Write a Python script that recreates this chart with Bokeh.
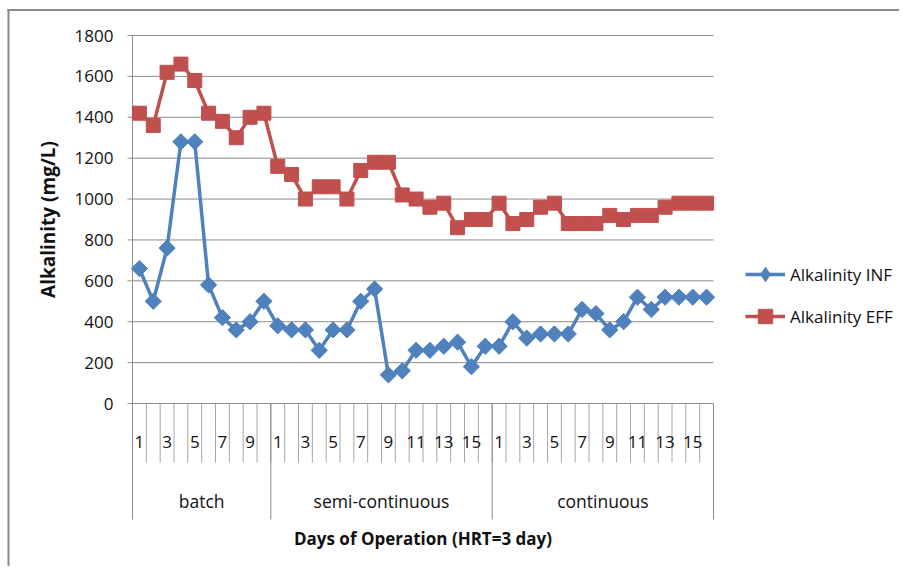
import numpy as np
from bokeh.plotting import figure
from bokeh.models import Range1d, Legend, LegendItem
from bokeh.core.properties import value
from bokeh.embed import file_html
from bokeh.resources import INLINE

# ---- data ----
phases = ["batch", "semi-continuous", "continuous"]
phase_days = [10, 16, 16]
inf_batch = [660, 500, 760, 1280, 1280, 580, 420, 360, 400, 500]
eff_batch = [1420, 1360, 1620, 1660, 1580, 1420, 1380, 1300, 1400, 1420]
inf_semi = [380, 360, 360, 260, 360, 360, 500, 560, 140, 160, 260, 260, 280, 300, 180, 280]
eff_semi = [1160, 1120, 1000, 1060, 1060, 1000, 1140, 1180, 1180, 1020, 1000, 960, 980, 860, 900, 900]
inf_cont = [280, 400, 320, 340, 340, 340, 460, 440, 360, 400, 520, 460, 520, 520, 520, 520]
eff_cont = [980, 880, 900, 960, 980, 880, 880, 880, 920, 900, 920, 920, 960, 980, 980, 980]
y_ticks = [0, 200, 400, 600, 800, 1000, 1200, 1400, 1600, 1800]

inf = inf_batch + inf_semi + inf_cont
eff = eff_batch + eff_semi + eff_cont
days = [d for n_ in phase_days for d in range(1, n_ + 1)]
n = len(days)
x = [i + 0.5 for i in range(n)]
group_bounds = [int(v) for v in np.cumsum([0] + phase_days)]
group_centers = [(group_bounds[k] + group_bounds[k + 1]) / 2 for k in range(len(phases))]
y_max = max(y_ticks)

# ---- layout (picture pixels -> data) ----
FONT = "Open Sans"
BLUE = "#4F81BD"
RED = "#C0504D"
GRID = "#8c8c8c"
SEP = "#a6a6a6"
TXT = "#111111"
W, H = 899, 566
PL, PR, PT, PB = 132, 713, 35, 403   # plot area in picture pixels
sx = (PR - PL) / n
sy = (PB - PT) / y_max


def X(px):
    return (px - PL) / sx


def Y(py):
    return (PB - py) / sy


p = figure(width=W, height=H, output_backend="svg", toolbar_location=None,
           x_range=Range1d(X(0), X(W)), y_range=Range1d(Y(H), Y(0)),
           min_border=0, min_border_left=0, min_border_right=0,
           min_border_top=0, min_border_bottom=0)
p.outline_line_color = None
p.xaxis.visible = False
p.yaxis.visible = False
p.grid.visible = False

# outer chart border (top & left)
p.segment(x0=[X(7)], y0=[Y(9.5)], x1=[X(W)], y1=[Y(9.5)], line_color="#8a8a8a", line_width=2)
p.segment(x0=[X(8)], y0=[Y(8.5)], x1=[X(8)], y1=[Y(H)], line_color="#8a8a8a", line_width=2)

# horizontal gridlines
p.segment(x0=[0] * len(y_ticks), y0=y_ticks, x1=[n] * len(y_ticks), y1=y_ticks,
          line_color=GRID, line_width=1)
# y axis line and ticks
p.segment(x0=[0], y0=[0], x1=[0], y1=[y_max], line_color=GRID, line_width=1)
p.segment(x0=[X(PL - 5)] * len(y_ticks), y0=y_ticks, x1=[0] * len(y_ticks), y1=y_ticks,
          line_color=GRID, line_width=1)
p.text(x=[X(113)] * len(y_ticks), y=y_ticks, text=[str(v) for v in y_ticks],
       text_align="right", text_baseline="middle", text_font=value(FONT),
       text_font_size="17px", text_color=TXT)

# category separators
bounds = list(range(n + 1))
p.segment(x0=bounds, y0=[0] * len(bounds), x1=bounds, y1=[Y(462)] * len(bounds),
          line_color=SEP, line_width=1)
p.segment(x0=group_bounds, y0=[0] * len(group_bounds), x1=group_bounds,
          y1=[Y(519)] * len(group_bounds), line_color=GRID, line_width=1)

# category labels (odd days) and group labels
lx = [x[i] for i in range(n) if days[i] % 2 == 1]
lt = [str(days[i]) for i in range(n) if days[i] % 2 == 1]
p.text(x=lx, y=[Y(441)] * len(lx), text=lt, text_align="center", text_baseline="middle",
       text_font=value(FONT), text_font_size="17px", text_color=TXT)
p.text(x=group_centers, y=[Y(500)] * len(group_centers), text=phases, text_align="center",
       text_baseline="middle", text_font=value(FONT), text_font_size="17.5px", text_color=TXT)

# axis titles
p.text(x=[X(47)], y=[y_max / 2], text=["Alkalinity (mg/L)"], angle=np.pi / 2,
       text_align="center", text_baseline="middle", text_font=value(FONT),
       text_font_size="19px", text_font_style="bold", text_color=TXT)
p.text(x=[n / 2], y=[Y(538)], text=["Days of Operation (HRT=3 day)"],
       text_align="center", text_baseline="middle", text_font=value(FONT),
       text_font_size="17px", text_font_style="bold", text_color=TXT)

# series
l1 = p.line(x, inf, line_color=BLUE, line_width=3.5)
# diamond glyph (hidden beneath the rotated squares) used for the legend symbol
d1 = p.scatter(x, inf, marker="diamond", size=14, fill_color=BLUE, line_color=BLUE)
s1 = p.scatter(x, inf, marker="square", angle=np.pi / 4, size=11.5, fill_color=BLUE, line_color=BLUE)
l2 = p.line(x, eff, line_color=RED, line_width=3.5)
s2 = p.scatter(x, eff, marker="square", size=14, fill_color=RED, line_color=RED)

legend = Legend(items=[LegendItem(label="Alkalinity INF", renderers=[l1, d1]),
                       LegendItem(label="Alkalinity EFF", renderers=[l2, s2])],
                location=(745, 232), padding=0, margin=0, border_line_color=None,
                background_fill_alpha=0, glyph_width=40, glyph_height=36, spacing=6,
                label_standoff=5, label_text_font=FONT, label_text_font_size="17px",
                label_text_color=TXT)
p.add_layout(legend)

open("out.html", "w").write(file_html(p, INLINE))
